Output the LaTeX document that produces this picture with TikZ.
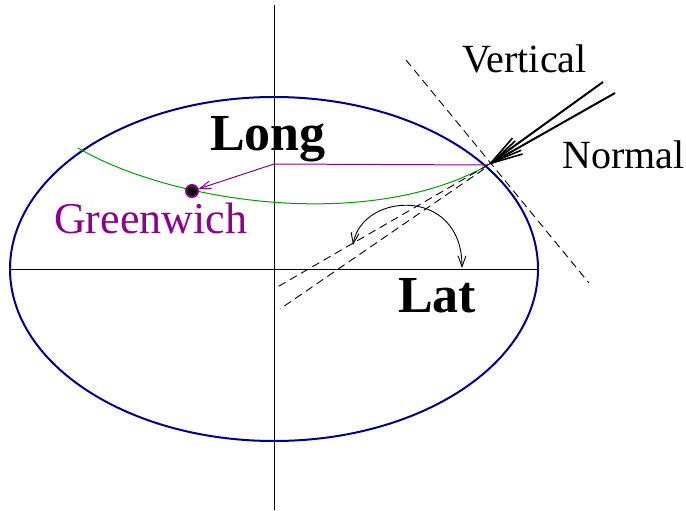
\documentclass[tikz,border=0pt]{standalone}
\usepackage{fontspec}
\setmainfont{Liberation Serif}
\usetikzlibrary{arrows.meta}
\definecolor{ellblue}{RGB}{0,0,144}
\definecolor{gwgreen}{RGB}{0,160,0}
\definecolor{gwpurple}{RGB}{142,0,142}
\tikzset{
  axisline/.style={line width=1pt, black},
  dashline/.style={line width=0.9pt, dash pattern=on 8pt off 5pt},
  bigarrow/.style={line width=2pt, -{Straight Barb[length=32pt,width=15pt,line width=1.6pt]}},
  smallbarb/.style={-{Straight Barb[length=11pt,width=8pt]}},
  plainlabel/.style={inner sep=0pt, anchor=base west, font=\fontsize{40}{48}\selectfont},
  boldlabel/.style={inner sep=0pt, anchor=base west, font=\fontsize{52}{60}\selectfont\bfseries},
}
\begin{document}
\begin{tikzpicture}[x=1pt,y=-1pt]
\useasboundingbox (0,0) rectangle (686,511);
\coordinate (O) at (274,269);
\coordinate (P) at (488,165);
\coordinate (Ntop) at (274,5);
\coordinate (Nbot) at (274,510);
\coordinate (W) at (11,269);
\coordinate (E) at (539,269);
\coordinate (Q) at (274,164);
\coordinate (Gs) at (78,148);
\coordinate (T1) at (406,60);
\coordinate (T2) at (589,283);
\coordinate (D1) at (274,289);
\coordinate (D2a) at (484,169);
\coordinate (D2) at (280,309);
\coordinate (V1) at (603,82);
\coordinate (V2) at (615,93);
\coordinate (A1) at (353,245);
\coordinate (A2) at (462,268);
% axes
\draw[axisline] (Ntop) -- (Nbot);
\draw[axisline] (W) -- (E);
% ellipse
\draw[ellblue, line width=2pt] (O) ellipse [x radius=264, y radius=172];
% green parallel
\draw[gwgreen, line width=1pt] (Gs) .. controls (172,203) and (370,232) .. (P);
% purple longitude
\node[circle, fill=black, draw=gwpurple, line width=2pt, minimum size=12pt, inner sep=0pt] (G) at (192,191) {};
\draw[gwpurple, line width=1pt, smallbarb] (P) -- (Q) -- (G);
% dashed lines
\draw[dashline] (T1) -- (T2);
\draw[dashline] (P) -- (D1);
\draw[dashline] (D2a) -- (D2);
% vertical / normal arrows
\draw[bigarrow] (V1) -- (P);
\draw[bigarrow] (V2) -- (P);
% latitude arc
\draw[line width=0.9pt, {Straight Barb[length=11pt,width=8pt]}-{Straight Barb[length=11pt,width=8pt]}] (A1) .. controls (362,192) and (462,186) .. (A2);
% labels
\node[plainlabel] (vert) at (462,73) {Vertical};
\node[plainlabel] (norm) at (562,168) {Normal};
\node[boldlabel] (long) at (210,150) {Long};
\node[boldlabel] (lat) at (398,312) {Lat};
\node[plainlabel, text=gwpurple, font=\fontsize{44}{52}\selectfont] (gw) at (54,233) {Greenwich};
\end{tikzpicture}
\end{document}
